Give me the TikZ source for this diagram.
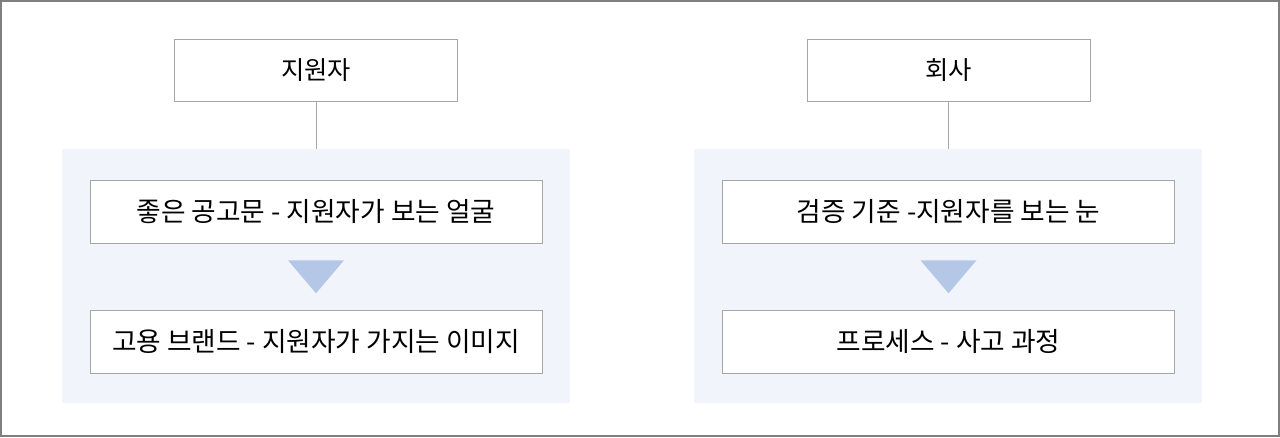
\documentclass[tikz,border=0pt]{standalone}
\usepackage{fontspec}
\newfontfamily\krfont{Noto Sans CJK KR}
\usetikzlibrary{positioning}
\definecolor{panelbg}{HTML}{F1F4FA}
\definecolor{arrowblue}{HTML}{B4C7E7}
\definecolor{boxline}{HTML}{A6A6A6}
\definecolor{frameline}{HTML}{7F7F7F}

\begin{document}
\begin{tikzpicture}[x=0.025cm,y=-0.025cm,
        titlebox/.style={draw=boxline, fill=white, minimum width=7.075cm, minimum height=1.55cm, font=\krfont\fontsize{18}{20}\selectfont},
        itembox/.style={draw=boxline, fill=white, minimum width=11.3cm, minimum height=1.575cm, font=\krfont\fontsize{19}{21}\selectfont},
        panelbox/.style={fill=panelbg, minimum width=12.7cm, minimum height=6.35cm, inner sep=0pt}]
        \useasboundingbox (0,0) rectangle (1280,437);
        \draw[frameline, line width=1pt] (1,1) rectangle (1279,436);

        % left column
        \node[panelbox] (panelL) at (316,276) {};
        \node[titlebox] (applicant) at (316,70) {지원자};
        \node[itembox] (postingL) at (316,211.5) {좋은 공고문 - 지원자가 보는 얼굴};
        \node[itembox] (brandL) at (316,341.5) {고용 브랜드 - 지원자가 가지는 이미지};
        \draw[boxline] (applicant.south) -- (applicant.south |- panelL.north);

        % right column
        \node[panelbox] (panelR) at (948,276) {};
        \node[titlebox] (company) at (948.5,70) {회사};
        \node[itembox] (criteriaR) at (948.5,211.5) {검증 기준 -지원자를 보는 눈};
        \node[itembox] (processR) at (948.5,341.5) {프로세스 - 사고 과정};
        \draw[boxline] (company.south) -- (company.south |- panelR.north);

        \foreach \a in {postingL,criteriaR}
            \fill[arrowblue] (\a.south) ++(-28,17) -- ++(56,0) -- ++(-28,33) -- cycle;
    \end{tikzpicture}
\end{document}
